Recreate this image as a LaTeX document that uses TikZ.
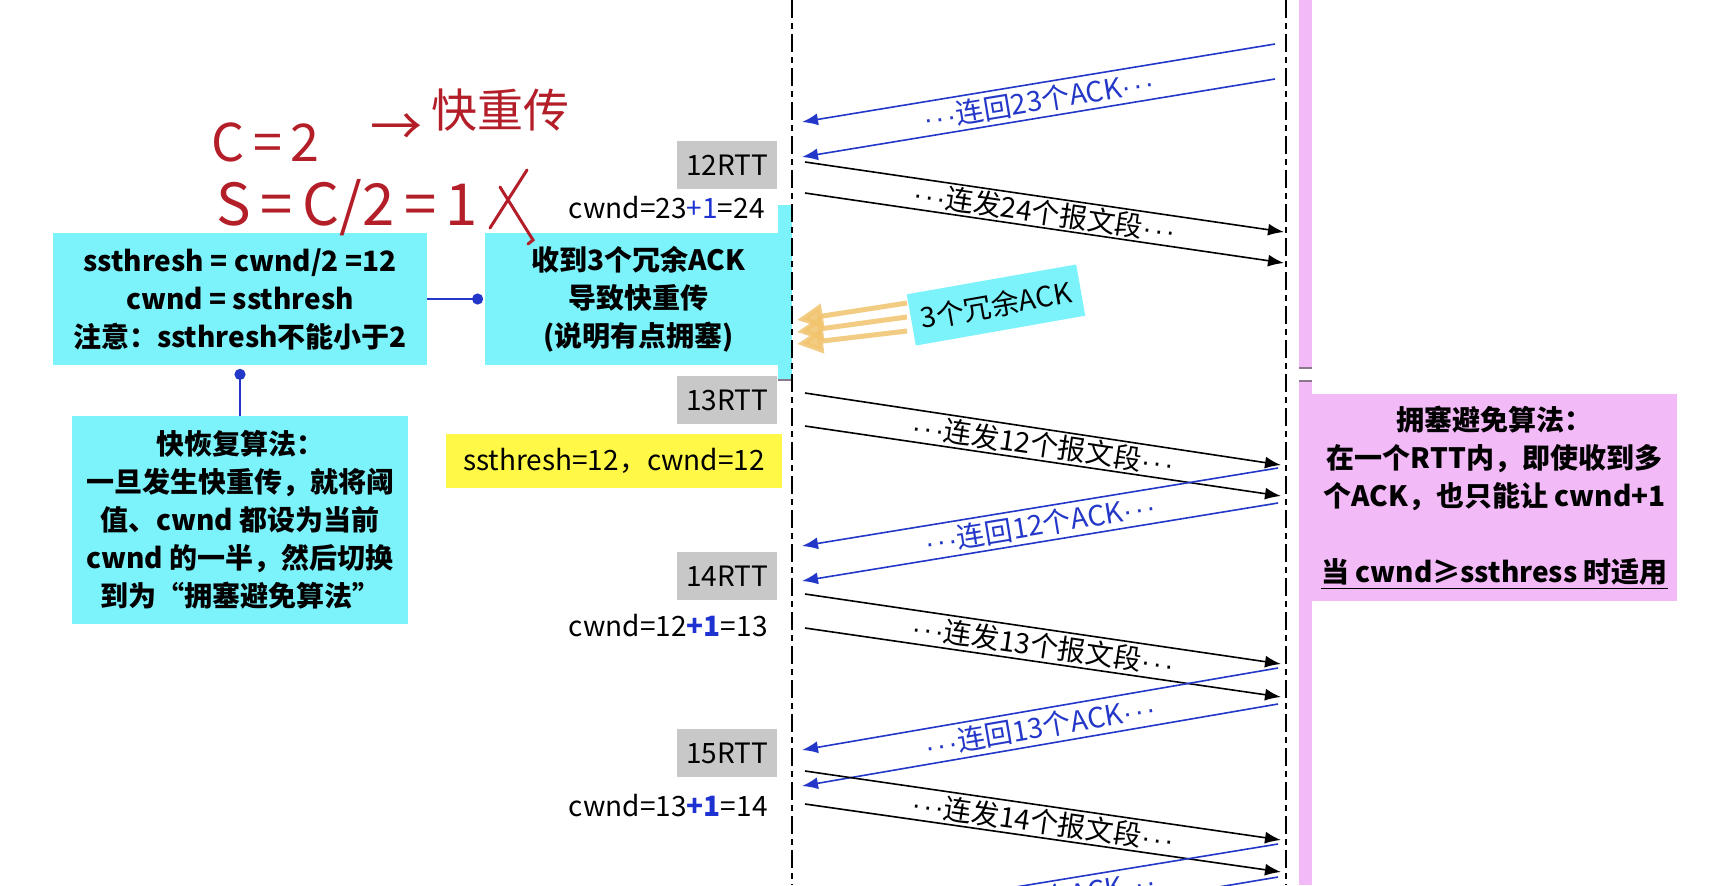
\documentclass[tikz,border=0pt]{standalone}
\usepackage{fontspec}
\setmainfont{Noto Sans CJK SC}
\newfontfamily\dotfont{Liberation Sans}
\usetikzlibrary{arrows.meta,calc}
\definecolor{boxcyan}{RGB}{124,242,250}
\definecolor{boxpink}{RGB}{242,186,246}
\definecolor{rttgray}{RGB}{200,200,200}
\definecolor{hlyellow}{RGB}{255,248,70}
\definecolor{ackblue}{RGB}{35,55,200}
\definecolor{plusblue}{RGB}{30,50,210}
\definecolor{ackorange}{RGB}{242,196,110}
\definecolor{penred}{RGB}{180,30,40}
\definecolor{edgegray}{RGB}{140,120,140}
\newcommand\myfs[2]{\fontsize{#1}{#2}\selectfont}
\newcommand\tdots{{\dotfont ·\kern1.2pt·\kern1.2pt·}}
\begin{document}
\begin{tikzpicture}[x=0.5pt,y=-0.5pt,
  timeline/.style={line width=0.8pt, dash pattern=on 9pt off 2.5pt on 3pt off 2.5pt},
  cyanbox/.style={fill=boxcyan, inner sep=0pt, align=center, font=\myfs{14}{19}\bfseries},
  graybox/.style={fill=rttgray, inner sep=0pt, minimum width=50pt, minimum height=24pt, font=\myfs{14}{16}},
  cwndlabel/.style={anchor=east, inner sep=0pt, font=\myfs{14}{16}},
  segarrow/.style={draw=black, line width=0.8pt, -{Latex[length=8pt,width=6pt]}},
  ackarrow/.style={draw=ackblue, line width=0.8pt, -{Latex[length=8pt,width=6pt]}},
  seglabel/.style={font=\myfs{14}{16}, inner sep=0pt, text=black},
  acklabel/.style={font=\myfs{14}{16}, inner sep=0pt, text=ackblue},
  oarrow/.style={draw=ackorange, line width=2.5pt, opacity=0.85, -{Triangle[length=13pt,width=12pt]}},
  conn/.style={draw=ackblue, line width=1pt},
  pen/.style={text=penred, inner sep=0pt},
  penline/.style={draw=penred, line width=1.5pt, line cap=round}
]
\useasboundingbox (0,0) rectangle (1735,885);
\clip (0,0) rectangle (1735,885);
\fill[white] (0,0) rectangle (1735,885);

% pink stripe and cyan strip
\fill[boxpink] (1299,0) rectangle (1312,368);
\fill[boxpink] (1299,381) rectangle (1312,885);
\draw[edgegray, line width=0.8pt] (1299,368) -- (1312,368);
\draw[edgegray, line width=0.8pt] (1299,381) -- (1312,381);
\fill[boxcyan] (778,205) rectangle (792,380);
\draw[edgegray, line width=0.8pt] (778,380) -- (792,380);

% boxes
\node[cyanbox, minimum width=187pt, minimum height=66pt] (b1) at (240,299)
  {ssthresh = cwnd/2 =12\\cwnd = ssthresh\\注意：ssthresh不能小于2};
\node[cyanbox, minimum width=153.5pt, minimum height=66pt] (b2) at (638.5,299)
  {收到3个冗余ACK\\导致快重传\\(说明有点拥塞)};
\node[cyanbox, minimum width=168pt, minimum height=104pt] (b3) at (240,520)
  {快恢复算法：\\一旦发生快重传，就将阈\\值、cwnd 都设为当前\\cwnd 的一半，然后切换\\到为“拥塞避免算法”};
\node[fill=boxpink, inner sep=0pt, minimum width=182.5pt, minimum height=103.5pt, align=center, font=\myfs{14}{19}\bfseries] (pk) at (1494.5,497.5)
  {拥塞避免算法：\\在一个RTT内，即使收到多\\个ACK，也只能让 cwnd+1\\[19pt]\underline{当 cwnd≥ssthress 时适用}};
\node[fill=hlyellow, inner sep=0pt, minimum width=168pt, minimum height=27pt, font=\myfs{14}{16}] (ys) at (614,461) {ssthresh=12，cwnd=12};

% RTT boxes
\node[graybox] (r12) at (727,165) {12RTT};
\node[graybox] (r13) at (727,400) {13RTT};
\node[graybox] (r14) at (727,576) {14RTT};
\node[graybox] (r15) at (727,753) {15RTT};
\node[cwndlabel] (c12) at (765,208) {cwnd=23{\color{plusblue}+1}=24};
\node[cwndlabel] (c14) at (768,626) {cwnd=12{\color{plusblue}\bfseries +1}=13};
\node[cwndlabel] (c15) at (768,806) {cwnd=13{\color{plusblue}\bfseries +1}=14};

% connectors between boxes
\coordinate (d1) at ($(b2.west)+(-7,0)$);
\coordinate (d2) at ($(b1.south)+(0,9)$);
\draw[conn] (b1.east) -- (d1);
\fill[ackblue] (d1) circle (2.8pt);
\draw[conn] (d2) -- (b3.north);
\fill[ackblue] (d2) circle (2.8pt);

% three duplicate ACKs
\node[fill=boxcyan, rotate=10, inner sep=0pt, minimum width=86pt, minimum height=26pt, font=\myfs{14}{16}] (ack3) at (996,305) {3个冗余ACK};
\coordinate (o1s) at (907,303); \coordinate (o1e) at (797,320);
\coordinate (o2s) at (907,317); \coordinate (o2e) at (797,332);
\coordinate (o3s) at (907,331); \coordinate (o3e) at (797,344);
\draw[oarrow] (o1s) -- (o1e);
\draw[oarrow] (o2s) -- (o2e);
\draw[oarrow] (o3s) -- (o3e);

% message arrows
\coordinate (A1s) at (1275,44);  \coordinate (A1e) at (802,122);
\coordinate (A2s) at (1275,79);  \coordinate (A2e) at (802,157);
\coordinate (B1s) at (805,162);  \coordinate (B1e) at (1284,232);
\coordinate (B2s) at (805,193);  \coordinate (B2e) at (1284,263);
\coordinate (C1s) at (805,393);  \coordinate (C1e) at (1281,465);
\coordinate (C2s) at (805,426);  \coordinate (C2e) at (1281,496);
\coordinate (D1s) at (1278,468); \coordinate (D1e) at (802,546);
\coordinate (D2s) at (1278,503); \coordinate (D2e) at (802,581);
\coordinate (E1s) at (805,594);  \coordinate (E1e) at (1281,664);
\coordinate (E2s) at (805,628);  \coordinate (E2e) at (1281,697);
\coordinate (F1s) at (1278,668); \coordinate (F1e) at (802,750);
\coordinate (F2s) at (1278,704); \coordinate (F2e) at (802,786);
\coordinate (G1s) at (805,771);  \coordinate (G1e) at (1281,840);
\coordinate (G2s) at (805,804);  \coordinate (G2e) at (1281,872);
\coordinate (H1s) at (1278,844); \coordinate (H1e) at (802,922);
\coordinate (H2s) at (1278,877); \coordinate (H2e) at (802,957);

\draw[ackarrow] (A1s) -- (A1e);
\draw[ackarrow] (A2s) -- (A2e);
\draw[segarrow] (B1s) -- (B1e);
\draw[segarrow] (B2s) -- (B2e);
\draw[segarrow] (C1s) -- (C1e);
\draw[segarrow] (C2s) -- (C2e);
\draw[ackarrow] (D1s) -- (D1e);
\draw[ackarrow] (D2s) -- (D2e);
\draw[segarrow] (E1s) -- (E1e);
\draw[segarrow] (E2s) -- (E2e);
\draw[ackarrow] (F1s) -- (F1e);
\draw[ackarrow] (F2s) -- (F2e);
\draw[segarrow] (G1s) -- (G1e);
\draw[segarrow] (G2s) -- (G2e);
\draw[ackarrow] (H1s) -- (H1e);
\draw[ackarrow] (H2s) -- (H2e);

\path ($(A1s)!0.5!(A2s)$) -- ($(A1e)!0.5!(A2e)$) node[midway, sloped, acklabel] (lA) {\tdots 连回23个ACK\tdots};
\path ($(B1s)!0.5!(B2s)$) -- ($(B1e)!0.5!(B2e)$) node[midway, sloped, seglabel] (lB) {\tdots 连发24个报文段\tdots};
\path ($(C1s)!0.5!(C2s)$) -- ($(C1e)!0.5!(C2e)$) node[midway, sloped, seglabel] (lC) {\tdots 连发12个报文段\tdots};
\path ($(D1s)!0.5!(D2s)$) -- ($(D1e)!0.5!(D2e)$) node[midway, sloped, acklabel] (lD) {\tdots 连回12个ACK\tdots};
\path ($(E1s)!0.5!(E2s)$) -- ($(E1e)!0.5!(E2e)$) node[midway, sloped, seglabel] (lE) {\tdots 连发13个报文段\tdots};
\path ($(F1s)!0.5!(F2s)$) -- ($(F1e)!0.5!(F2e)$) node[midway, sloped, acklabel] (lF) {\tdots 连回13个ACK\tdots};
\path ($(G1s)!0.5!(G2s)$) -- ($(G1e)!0.5!(G2e)$) node[midway, sloped, seglabel] (lG) {\tdots 连发14个报文段\tdots};
\path ($(H1s)!0.5!(H2s)$) -- ($(H1e)!0.5!(H2e)$) node[midway, sloped, acklabel] (lH) {\tdots 连回14个ACK\tdots};

% timelines
\coordinate (Lt) at (792,0); \coordinate (Lb) at (792,885);
\coordinate (Rt) at (1286,0); \coordinate (Rb) at (1286,885);
\draw[timeline] (Lt) -- (Lb);
\draw[timeline] (Rt) -- (Rb);

% handwritten note
\node[pen, anchor=west, font=\myfs{26}{28}] (h1) at (211,142) {C\,=\,2};
\node[pen, font=\myfs{26}{28}] (h2) at (396,130) {→};
\node[pen, font=\myfs{23}{25}] (h3) at (500,110) {快重传};
\node[pen, anchor=west, font=\myfs{29}{32}] (h4) at (216,208) {S\,=\,C/2\,=\,1};
\coordinate (x1a) at (527,170); \coordinate (x1b) at (490,228);
\coordinate (x2a) at (500,187); \coordinate (x2b) at (533,240);
\draw[penline] (x1a) -- (x1b);
\draw[penline] (x2a) -- (x2b) -- ++(-5,4);
\end{tikzpicture}
\end{document}
